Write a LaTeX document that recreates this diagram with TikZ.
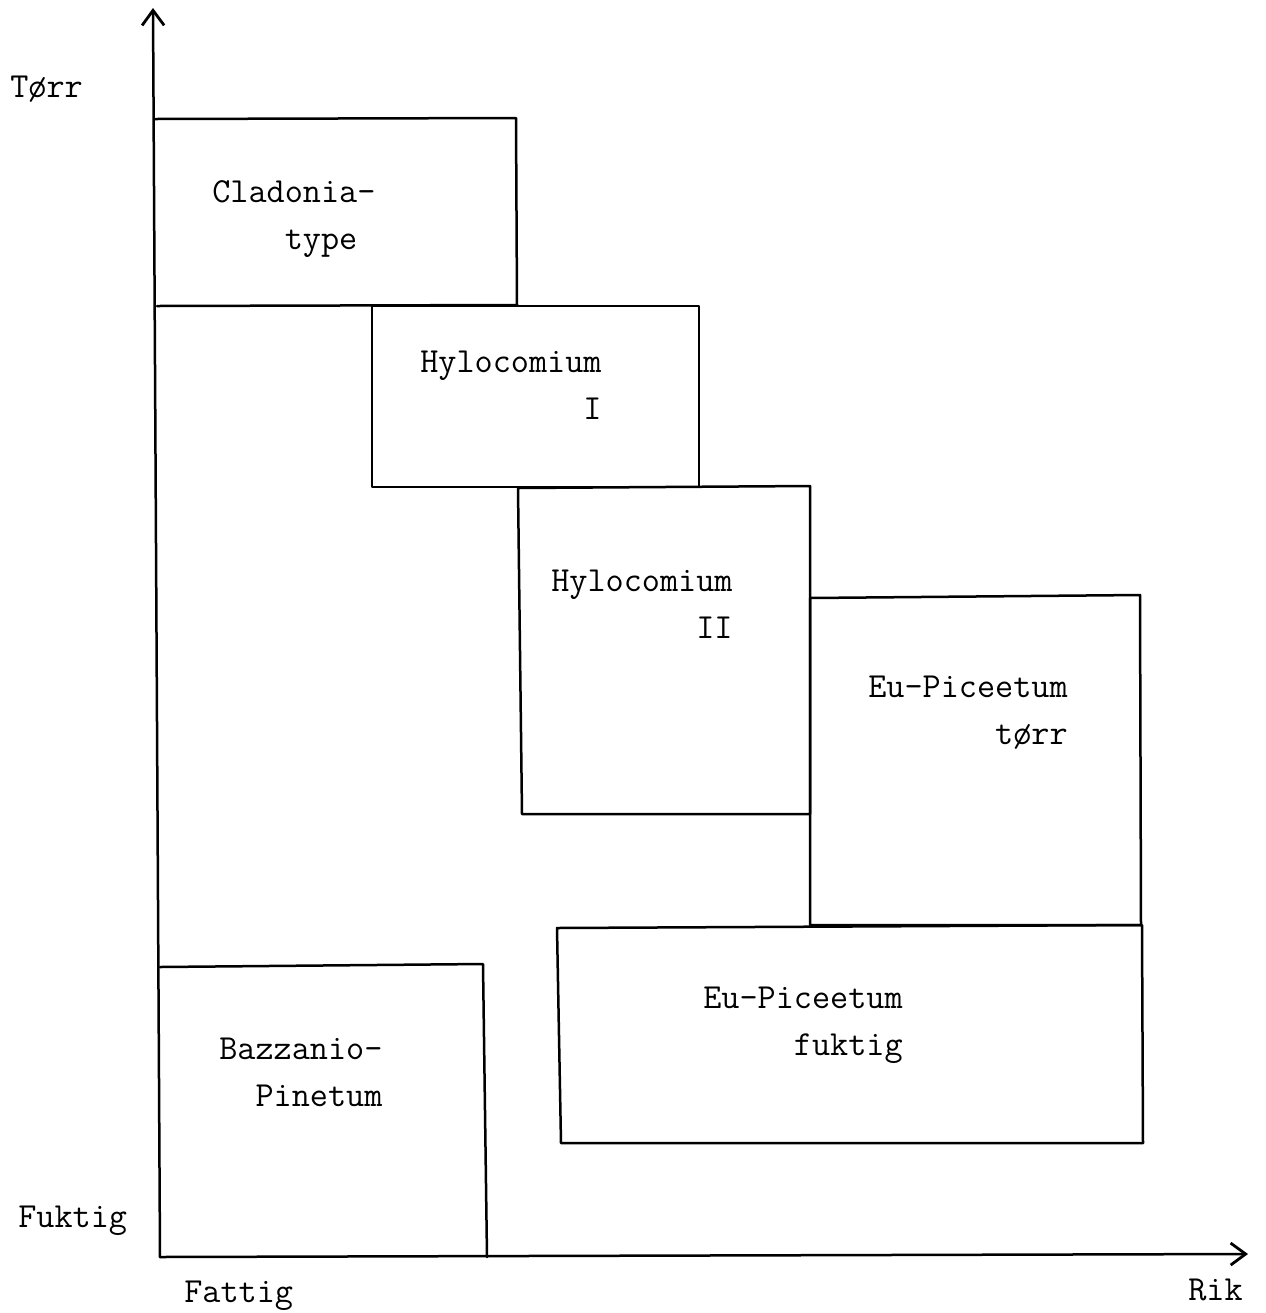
\documentclass[tikz,border=0pt]{standalone}
\usepackage{fontspec}
\usetikzlibrary{arrows.meta}
\begin{document}
\begin{tikzpicture}[x=0.5pt,y=-0.5pt,
  line width=1.25pt, line cap=round, line join=round,
  axis/.style={-{Straight Barb[length=7.5pt,width=11pt,line width=1.4pt]}},
  lbl/.style={anchor=base west, inner sep=0pt, font=\ttfamily\fontsize{17.6}{23.5}\selectfont}]
\useasboundingbox (0,0) rectangle (1265,1313);

% axes
\coordinate (o) at (160,1257);
\coordinate (ytip) at (153,8);
\coordinate (xtip) at (1248,1254);
\draw[axis] (o) -- (ytip);
\draw[axis] (o) -- (xtip);

% vegetation types as rectangles
\draw (155,119) -- (516,118) -- (517,305) -- (157,306);            % Cladonia
\draw (372,306) rectangle (699,487);                              % Hylocomium I
\draw (518,488) -- (810,486) -- (810,814) -- (522,814) -- cycle;   % Hylocomium II
\draw (810,598) -- (1140,595) -- (1141,925) -- (810,925) -- cycle; % Eu-Piceetum tørr
\draw (557,928) -- (1142,925) -- (1143,1143) -- (561,1143) -- cycle; % Eu-Piceetum fuktig
\draw (160,967) -- (483,964) -- (487,1257);                        % Bazzanio-Pinetum

% axis labels
\node[lbl] (torr)   at (9,97)     {Tørr};
\node[lbl] (fuktig) at (17,1227)  {Fuktig};
\node[lbl] (fattig) at (183,1302) {Fattig};
\node[lbl] (rik)    at (1187,1300) {Rik};

% type labels
\node[lbl] (clad) at (211,202)
  {\begin{tabular}[t]{@{}l@{}}Cladonia-\\\phantom{xxxx}type\end{tabular}};
\node[lbl] (hyl1) at (419,372)
  {\begin{tabular}[t]{@{}l@{}}Hylocomium\\\phantom{xxxxxxxxx}I\end{tabular}};
\node[lbl] (hyl2) at (550,591)
  {\begin{tabular}[t]{@{}l@{}}Hylocomium\\\phantom{xxxxxxxx}II\end{tabular}};
\node[lbl] (eut) at (867,697)
  {\begin{tabular}[t]{@{}l@{}}Eu-Piceetum\\\phantom{xxxxxxx}tørr\end{tabular}};
\node[lbl] (euf) at (702,1008)
  {\begin{tabular}[t]{@{}l@{}}Eu-Piceetum\\\phantom{xxxxx}fuktig\end{tabular}};
\node[lbl] (bazz) at (218,1059)
  {\begin{tabular}[t]{@{}l@{}}Bazzanio-\\\phantom{xx}Pinetum\end{tabular}};
\end{tikzpicture}
\end{document}
